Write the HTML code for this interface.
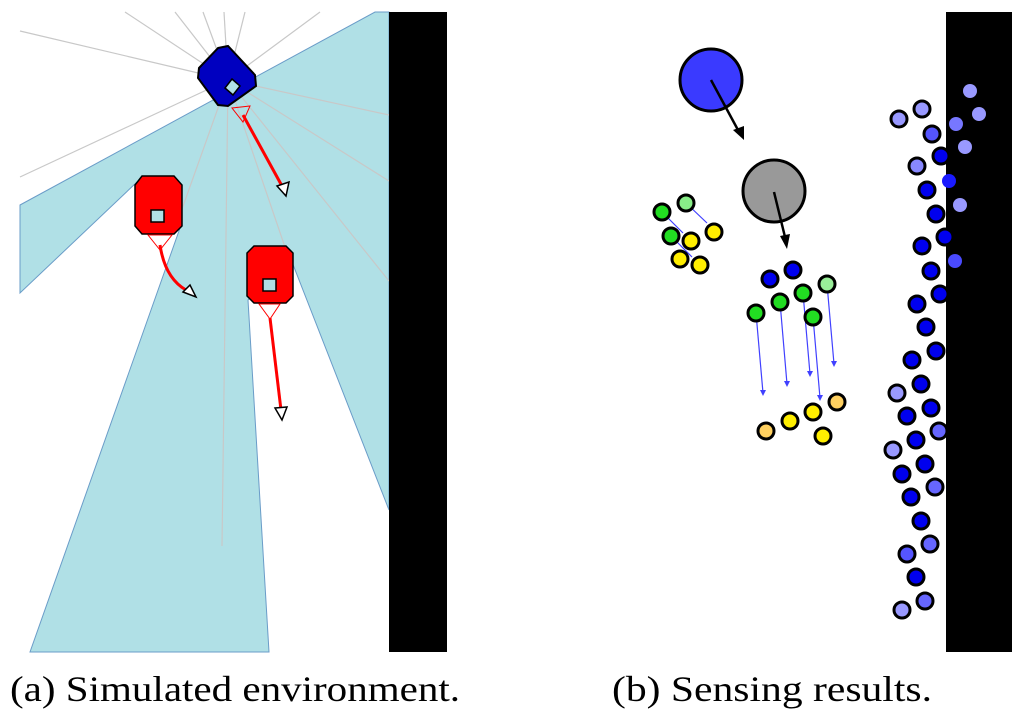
<!DOCTYPE html>
<html><head><meta charset="utf-8"><style>html,body{margin:0;padding:0;background:#fff}svg{display:block}</style></head>
<body>
<svg width="1024" height="721" viewBox="0 0 1024 721" xmlns="http://www.w3.org/2000/svg">
<rect width="1024" height="721" fill="#fff"/>
<!-- left panel -->
<polygon points="20,205 375,12 389,12 389,510 292,262 248,300 269,652 30,652 180,228 137,182 20,293" fill="#b0e0e6" stroke="#6a9cc8" stroke-width="1"/>
<g stroke="#c8c8c8" stroke-width="1.2">
<line x1="228" y1="80" x2="20" y2="31"/>
<line x1="228" y1="80" x2="125" y2="12"/>
<line x1="228" y1="80" x2="175" y2="12"/>
<line x1="228" y1="80" x2="203" y2="12"/>
<line x1="228" y1="80" x2="224" y2="12"/>
<line x1="228" y1="80" x2="245" y2="12"/>
<line x1="228" y1="80" x2="320" y2="12"/>
<line x1="228" y1="80" x2="20" y2="177"/>
<line x1="228" y1="80" x2="389" y2="115"/>
<line x1="228" y1="80" x2="389" y2="181"/>
<line x1="228" y1="80" x2="389" y2="281"/>
<line x1="228" y1="80" x2="222" y2="546"/>
<line x1="228" y1="80" x2="182" y2="209"/>
<line x1="228" y1="80" x2="287" y2="253"/>
</g>
<rect x="389" y="12" width="58" height="640" fill="#000"/>
<!-- blue robot -->
<polygon points="218,48 228,46 255,75 256,86 228,106 218,105 198,78 199,68" fill="#0000c0" stroke="#000" stroke-width="2"/>
<polygon points="232,79 240,86 233,95 225,88" fill="#b0e0e6" stroke="#000" stroke-width="1.5"/>
<polygon points="232,108 250,106 243,122" fill="none" stroke="#f00" stroke-width="1"/>
<line x1="243" y1="115" x2="282" y2="186" stroke="#f00" stroke-width="3"/>
<polygon points="277,186 289,182 286,196" fill="#fff" stroke="#000" stroke-width="1.5"/>
<!-- red robot 1 -->
<polygon points="142,176 174,176 182,185 182,226 174,234 142,234 135,226 135,185" fill="#f00" stroke="#000" stroke-width="1.5"/>
<rect x="151" y="210" width="13" height="12" fill="#b0e0e6" stroke="#000" stroke-width="1.5"/>
<polygon points="148,235 172,235 160,250" fill="none" stroke="#f00" stroke-width="1"/>
<path d="M160,245 Q165,278 186,290" fill="none" stroke="#f00" stroke-width="3"/>
<polygon points="183,292 196,297 190,285" fill="#fff" stroke="#000" stroke-width="1.5"/>
<!-- red robot 2 -->
<polygon points="254,246 286,246 293,253 293,296 286,303 254,303 247,296 247,253" fill="#f00" stroke="#000" stroke-width="1.5"/>
<rect x="263" y="279" width="13" height="12" fill="#b0e0e6" stroke="#000" stroke-width="1.5"/>
<polygon points="259,304 280,304 270,319" fill="none" stroke="#f00" stroke-width="1"/>
<line x1="270" y1="318" x2="281" y2="410" stroke="#f00" stroke-width="3"/>
<polygon points="275,408 287,407 282,420" fill="#fff" stroke="#000" stroke-width="1.5"/>
<!-- right panel -->
<rect x="946" y="12" width="66" height="640" fill="#000"/>
<circle cx="711" cy="80" r="31" fill="#3a3aff" stroke="#000" stroke-width="3"/>
<line x1="711" y1="80" x2="738" y2="130" stroke="#000" stroke-width="2.5"/>
<polygon points="733,130 744,126 744,140" fill="#000"/>
<circle cx="774" cy="191" r="31" fill="#999" stroke="#000" stroke-width="3"/>
<line x1="774" y1="192" x2="785" y2="237" stroke="#000" stroke-width="2.5"/>
<polygon points="780,236 790,234 787,249" fill="#000"/>
<g stroke="#4040ff" stroke-width="1.2" fill="none">
<line x1="662" y1="212" x2="683" y2="233"/>
<line x1="686" y1="203" x2="707" y2="223"/>
<line x1="671" y1="236" x2="692" y2="257"/>
<line x1="756" y1="313" x2="763" y2="393"/>
<line x1="780" y1="302" x2="787" y2="384"/>
<line x1="803" y1="293" x2="810" y2="374"/>
<line x1="813" y1="317" x2="820" y2="398"/>
<line x1="827" y1="284" x2="834" y2="364"/>
</g>
<g fill="#4040ff">
<polygon points="760,390 766,390 763,396"/>
<polygon points="784,381 790,381 787,387"/>
<polygon points="807,371 813,371 810,377"/>
<polygon points="817,395 823,395 820,401"/>
<polygon points="831,361 837,361 834,367"/>
</g>
<g stroke="#000" stroke-width="3">
<circle cx="662" cy="212" r="8" fill="#22dd22"/>
<circle cx="686" cy="203" r="8" fill="#88ee88"/>
<circle cx="671" cy="236" r="8" fill="#22dd22"/>
<circle cx="691" cy="241" r="8" fill="#ffee00"/>
<circle cx="714" cy="232" r="8" fill="#ffee00"/>
<circle cx="680" cy="259" r="8" fill="#ffee00"/>
<circle cx="700" cy="265" r="8" fill="#ffee00"/>
<circle cx="770" cy="279" r="8" fill="#0000ee"/>
<circle cx="793" cy="270" r="8" fill="#0000ee"/>
<circle cx="827" cy="284" r="8" fill="#99ee99"/>
<circle cx="803" cy="293" r="8" fill="#22dd22"/>
<circle cx="780" cy="302" r="8" fill="#22dd22"/>
<circle cx="756" cy="313" r="8" fill="#22dd22"/>
<circle cx="813" cy="317" r="8" fill="#22dd22"/>
<circle cx="766" cy="431" r="8" fill="#ffd060"/>
<circle cx="790" cy="421" r="8" fill="#ffee00"/>
<circle cx="813" cy="412" r="8" fill="#ffee00"/>
<circle cx="837" cy="402" r="8" fill="#ffd060"/>
<circle cx="823" cy="436" r="8" fill="#ffee00"/>
</g>
<g>
<circle cx="970" cy="91" r="7" fill="#9999ff"/>
<circle cx="979" cy="114" r="7" fill="#9999ff"/>
<circle cx="956" cy="124" r="7" fill="#7777ff"/>
<circle cx="965" cy="147" r="7" fill="#9999ff"/>
<circle cx="960" cy="205" r="7" fill="#9999ff"/>
<circle cx="955" cy="261" r="7" fill="#4a4aff"/>
<circle cx="949" cy="181" r="7" fill="#1a1aff"/>
</g>
<g stroke="#000" stroke-width="3">
<circle cx="899" cy="119" r="8" fill="#9999ff"/>
<circle cx="922" cy="109" r="8" fill="#9999ff"/>
<circle cx="932" cy="134" r="8" fill="#5555ff"/>
<circle cx="941" cy="156" r="8" fill="#0000ee"/>
<circle cx="917" cy="166" r="8" fill="#8888ff"/>
<circle cx="927" cy="190" r="8" fill="#0000ee"/>
<circle cx="936" cy="214" r="8" fill="#0000ee"/>
<circle cx="945" cy="237" r="8" fill="#0000ee"/>
<circle cx="922" cy="246" r="8" fill="#0000ee"/>
<circle cx="931" cy="271" r="8" fill="#0000ee"/>
<circle cx="940" cy="294" r="8" fill="#0000ee"/>
<circle cx="917" cy="304" r="8" fill="#0000ee"/>
<circle cx="926" cy="327" r="8" fill="#0000ee"/>
<circle cx="936" cy="351" r="8" fill="#0000ee"/>
<circle cx="912" cy="360" r="8" fill="#0000ee"/>
<circle cx="921" cy="384" r="8" fill="#0000ee"/>
<circle cx="897" cy="393" r="8" fill="#9999ff"/>
<circle cx="931" cy="408" r="8" fill="#0000ee"/>
<circle cx="907" cy="416" r="8" fill="#0000ee"/>
<circle cx="939" cy="431" r="8" fill="#6666ff"/>
<circle cx="916" cy="440" r="8" fill="#0000ee"/>
<circle cx="893" cy="450" r="8" fill="#9999ff"/>
<circle cx="925" cy="464" r="8" fill="#0000ee"/>
<circle cx="902" cy="474" r="8" fill="#0000ee"/>
<circle cx="935" cy="487" r="8" fill="#6666ff"/>
<circle cx="911" cy="497" r="8" fill="#0000ee"/>
<circle cx="921" cy="521" r="8" fill="#0000ee"/>
<circle cx="930" cy="544" r="8" fill="#6666ff"/>
<circle cx="907" cy="554" r="8" fill="#5555ff"/>
<circle cx="916" cy="577" r="8" fill="#0000ee"/>
<circle cx="925" cy="601" r="8" fill="#6666ff"/>
<circle cx="902" cy="610" r="8" fill="#9999ff"/>
</g>
<text x="10" y="701" font-family="Liberation Serif, serif" font-size="36" textLength="450" lengthAdjust="spacingAndGlyphs" fill="#000">(a)  Simulated environment.</text>
<text x="612" y="701" font-family="Liberation Serif, serif" font-size="36" textLength="320" lengthAdjust="spacingAndGlyphs" fill="#000">(b)  Sensing results.</text>
</svg>
</body></html>
